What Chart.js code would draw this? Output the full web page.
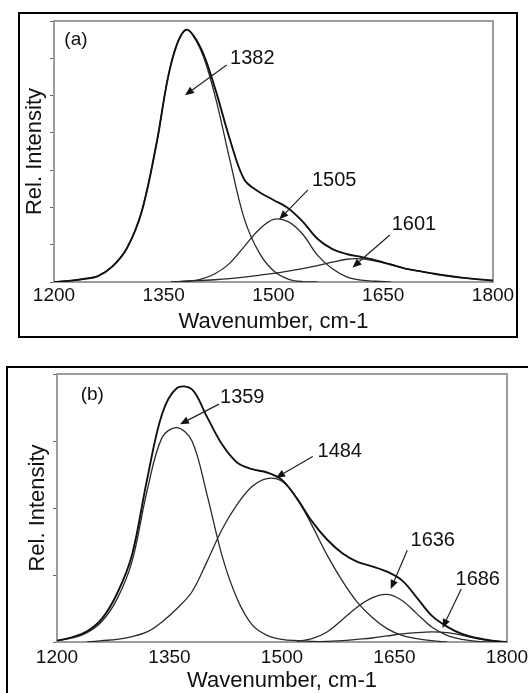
<!DOCTYPE html>
<html><head><meta charset="utf-8">
<script src="https://cdn.jsdelivr.net/npm/chart.js@4/dist/chart.umd.min.js"></script>
<style>
html,body{margin:0;padding:0;background:#fff;overflow:hidden;}
body{width:528px;height:693px;position:relative;}
.box{position:absolute;border:2px solid #000;box-sizing:border-box;}
#boxA{left:18px;top:12px;width:500px;height:326px;}
#boxB{left:6px;top:366px;width:600px;height:400px;}
.wrap{position:absolute;}
#wrapA{left:0;top:0;width:528px;height:340px;}
#wrapB{left:0;top:340px;width:528px;height:380px;}
</style></head>
<body>
<div class="box" id="boxA"></div>
<div class="box" id="boxB"></div>
<div class="wrap" id="wrapA"><canvas id="chartA" width="528" height="340"></canvas></div>
<div class="wrap" id="wrapB"><canvas id="chartB" width="528" height="380"></canvas></div>
<script>
// ---------- data ----------
const xTickValues = [1200, 1350, 1500, 1650, 1800];
const xTickLabels = ['1200', '1350', '1500', '1650', '1800'];
const xTitle = 'Wavenumber, cm-1';
const yTitle = 'Rel. Intensity';

const waveA = [1200,1220,1240,1260,1280,1300,1320,1340,1360,1380,1400,1420,1440,1460,1480,1500,1520,1540,1560,1580,1600,1620,1640,1660,1680,1700,1720,1740,1760,1780,1800];
const envelopeA = [0.0,0.03,0.08,0.16,0.42,0.92,1.9,3.7,5.85,6.76,6.3,5.2,3.85,2.75,2.42,2.2,1.98,1.62,1.16,0.89,0.75,0.67,0.58,0.47,0.36,0.29,0.22,0.16,0.11,0.07,0.04];
const peak1382A = [0.0,0.03,0.08,0.16,0.42,0.92,1.9,3.7,5.85,6.76,6.25,5.0,3.3,1.7,0.8,0.3,0.08,0.01,0.0,null,null,null,null,null,null,null,null,null,null,null,null];
const peak1505A = [null,null,null,null,null,null,null,null,0.0,0.02,0.07,0.22,0.5,0.95,1.4,1.68,1.62,1.28,0.72,0.36,0.14,0.05,0.02,0.0,null,null,null,null,null,null,null];
const peak1601A = [null,null,null,null,null,null,null,null,0.0,0.02,0.04,0.06,0.09,0.13,0.18,0.23,0.29,0.36,0.44,0.53,0.61,0.62,0.56,0.47,0.36,0.29,0.22,0.16,0.11,0.07,0.04];

const waveB = [1200,1220,1240,1260,1280,1300,1320,1340,1360,1380,1400,1420,1440,1460,1480,1500,1520,1540,1560,1580,1600,1620,1640,1660,1680,1700,1720,1740,1760,1780,1800];
const envelopeB = [0.02,0.07,0.16,0.35,0.72,1.3,2.42,3.4,3.79,3.77,3.36,2.95,2.68,2.58,2.53,2.42,2.14,1.8,1.53,1.33,1.2,1.13,1.05,0.92,0.66,0.39,0.23,0.12,0.06,0.02,0.0];
const peak1359B = [0.02,0.06,0.14,0.31,0.64,1.2,2.25,3.05,3.2,3.0,2.2,1.29,0.65,0.26,0.1,0.04,0.02,0.01,0.0,null,null,null,null,null,null,null,null,null,null,null,null];
const peak1484B = [null,null,0.0,0.02,0.04,0.08,0.15,0.3,0.5,0.75,1.2,1.68,2.05,2.32,2.44,2.4,2.14,1.74,1.3,0.92,0.6,0.37,0.2,0.1,0.05,0.02,0.0,null,null,null,null];
const peak1636B = [null,null,null,null,null,null,null,null,null,null,null,null,null,null,null,null,0.01,0.05,0.15,0.33,0.52,0.66,0.71,0.62,0.42,0.22,0.1,0.04,0.01,0.0,0.0];
const peak1686B = [null,null,null,null,null,null,null,null,null,null,null,null,null,null,null,null,null,0.0,0.01,0.02,0.04,0.06,0.09,0.12,0.14,0.15,0.14,0.1,0.05,0.02,0.0];

// annotations (data coordinates): label, label position, arrow tail, arrow head
const panelLabelA = {text: '(a)', x: 1230, y: 6.49};
const panelLabelB = {text: '(b)', x: 1247, y: 3.69};
const peakLabelsA = ['1382', '1505', '1601'];
const labelXA = [1471, 1583, 1692];
const labelYA = [6.0, 2.72, 1.53];
const tailXA = [1436, 1547, 1659];
const tailYA = [5.82, 2.47, 1.26];
const headXA = [1379, 1508, 1608];
const headYA = [5.01, 1.68, 0.39];

const peakLabelsB = ['1359', '1484', '1636', '1686'];
const labelXB = [1447, 1577, 1701, 1761];
const labelYB = [3.65, 2.85, 1.52, 0.94];
const tailXB = [1416, 1541, 1667, 1739];
const tailYB = [3.55, 2.77, 1.37, 0.79];
const headXB = [1364, 1492, 1645, 1714];
const headYB = [3.25, 2.45, 0.79, 0.21];

// ---------- drawing ----------
Chart.defaults.font.family = "'Liberation Sans', Arial, Helvetica, sans-serif";
Chart.defaults.color = '#1a1a1a';

const pts = (xs, ys) => xs.map((x, i) => ({x: x, y: ys[i]}));

const annotPlugin = {
  id: 'annot',
  beforeDatasetsDraw(chart) {
    const {ctx, chartArea: a} = chart;
    ctx.save();
    ctx.strokeStyle = '#9c9c9c';
    ctx.lineWidth = 2;
    ctx.strokeRect(a.left, a.top, a.right - a.left, a.bottom - a.top);
    ctx.restore();
  },
  afterDatasetsDraw(chart, args, opts) {
    const ctx = chart.ctx, sx = chart.scales.x, sy = chart.scales.y;
    ctx.save();
    ctx.fillStyle = '#111';
    ctx.textAlign = 'center';
    ctx.textBaseline = 'middle';
    ctx.font = "19px 'Liberation Sans', Arial, sans-serif";
    ctx.fillText(opts.panel.text, sx.getPixelForValue(opts.panel.x), sy.getPixelForValue(opts.panel.y));
    ctx.font = "20px 'Liberation Sans', Arial, sans-serif";
    opts.labels.forEach((t, i) => {
      const lx = sx.getPixelForValue(opts.lx[i]), ly = sy.getPixelForValue(opts.ly[i]);
      ctx.fillStyle = '#111';
      ctx.fillText(t, lx, ly);
      const tx = sx.getPixelForValue(opts.tx[i]), ty = sy.getPixelForValue(opts.ty[i]);
      const hx = sx.getPixelForValue(opts.hx[i]), hy = sy.getPixelForValue(opts.hy[i]);
      const ang = Math.atan2(hy - ty, hx - tx);
      const L = 9, W = 3.8;
      const bx = hx - L * Math.cos(ang), by = hy - L * Math.sin(ang);
      ctx.strokeStyle = '#222';
      ctx.lineWidth = 1.2;
      ctx.beginPath(); ctx.moveTo(tx, ty); ctx.lineTo(bx, by); ctx.stroke();
      ctx.beginPath();
      ctx.moveTo(hx, hy);
      ctx.lineTo(bx + W * Math.sin(ang), by - W * Math.cos(ang));
      ctx.lineTo(bx - W * Math.sin(ang), by + W * Math.cos(ang));
      ctx.closePath();
      ctx.fillStyle = '#111';
      ctx.fill();
    });
    ctx.restore();
  }
};

function makeChart(id, waves, series, yMax, pad, yWidth, xHeight, yTitlePad, xTitlePad, tickPad, ann) {
  const datasets = series.map((s, i) => ({
    data: pts(waves, s),
    borderColor: i === 0 ? '#111' : '#2a2a2a',
    borderWidth: i === 0 ? 1.9 : 1.3,
    pointRadius: 0,
    tension: 0.35,
    spanGaps: false,
    fill: false
  }));
  return new Chart(document.getElementById(id), {
    type: 'line',
    data: {datasets},
    plugins: [annotPlugin],
    options: {
      responsive: false,
      animation: false,
      devicePixelRatio: 1,
      layout: {padding: pad},
      plugins: {legend: {display: false}, tooltip: {enabled: false}, annot: ann},
      scales: {
        x: {
          type: 'linear', min: 1200, max: 1800,
          afterBuildTicks: (ax) => { ax.ticks = xTickValues.map(v => ({value: v})); },
          afterFit: (ax) => { ax.height = xHeight; },
          ticks: {
            font: {size: 19}, color: '#111', padding: tickPad, maxRotation: 0, autoSkip: false,
            callback: (v, i) => xTickLabels[i]
          },
          grid: {display: false},
          border: {display: false},
          title: {display: true, text: xTitle, font: {size: 22}, color: '#111', padding: {top: 0, bottom: xTitlePad}}
        },
        y: {
          type: 'linear', min: 0, max: yMax,
          ticks: {display: false, stepSize: 1},
          afterFit: (ax) => { ax.width = yWidth; },
          grid: {display: true, drawOnChartArea: false, drawTicks: true, tickLength: 4, color: '#666', lineWidth: 1},
          border: {display: false},
          title: {display: true, text: yTitle, font: {size: 22}, color: '#111', padding: {top: yTitlePad, bottom: 0}}
        }
      }
    }
  });
}

makeChart('chartA', waveA, [envelopeA, peak1382A, peak1505A, peak1601A], 7,
  {left: 0, top: 21, right: 35, bottom: 0}, 54, 58, 21.8, 5.3, -6,
  {panel: panelLabelA, labels: peakLabelsA, lx: labelXA, ly: labelYA, tx: tailXA, ty: tailYA, hx: headXA, hy: headYA});

makeChart('chartB', waveB, [envelopeB, peak1359B, peak1484B, peak1636B, peak1686B], 4,
  {left: 0, top: 34, right: 21, bottom: 0}, 57, 78, 24.8, 25.8, -4,
  {panel: panelLabelB, labels: peakLabelsB, lx: labelXB, ly: labelYB, tx: tailXB, ty: tailYB, hx: headXB, hy: headYB});
</script>
</body></html>
